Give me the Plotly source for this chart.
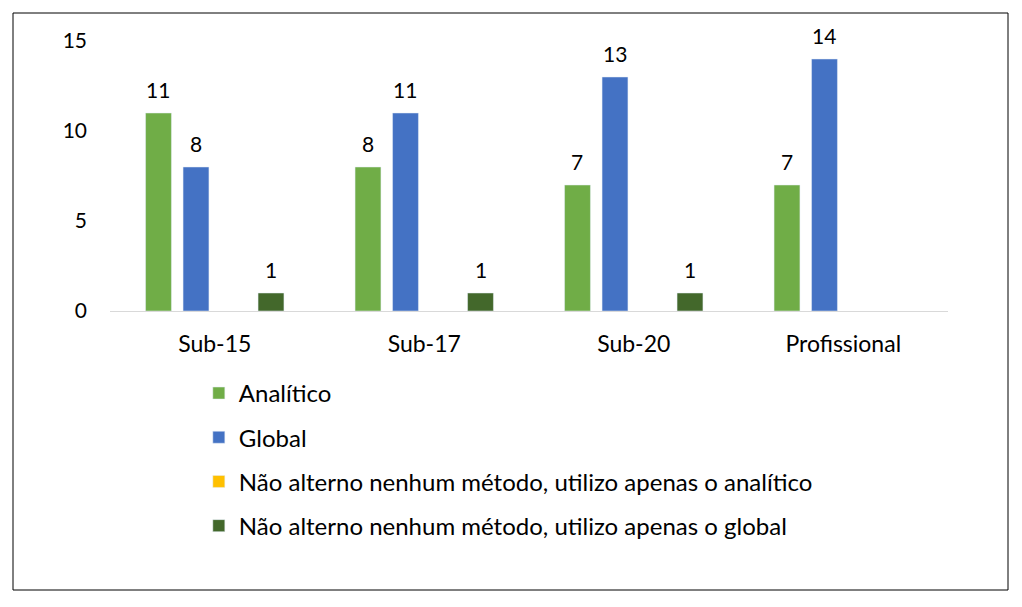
import plotly.graph_objects as go

categories = ["Sub-15", "Sub-17", "Sub-20", "Profissional"]
analitico = [11, 8, 7, 7]
global_ = [8, 11, 13, 14]
apenas_analitico = [None, None, None, None]
apenas_global = [1, 1, 1, None]

series = [
    ("Analítico", analitico, "#70AD47"),
    ("Global", global_, "#4472C4"),
    ("Não alterno nenhum método, utilizo apenas o analítico", apenas_analitico, "#FFC000"),
    ("Não alterno nenhum método, utilizo apenas o global", apenas_global, "#43682B"),
]

FONT = "Lato, 'Open Sans', sans-serif"

W, H = 1006, 591
L, R, T, B = 102, 66, 33, 288
plot_w = W - L - R
cat_w = plot_w / len(categories)
bargap = 0.284
slot = (1 - bargap) * cat_w / len(series)

fig = go.Figure()
for i, (name, vals, color) in enumerate(series):
    fig.add_trace(go.Bar(
        x=categories, y=vals, name=name, marker_color=color,
        legendgroup=f"g{i}",
    ))
    for c, v in zip(categories, vals):
        if v is None:
            continue
        fig.add_annotation(
            x=c, y=v, xref="x", yref="y", text=str(v), showarrow=False,
            yanchor="bottom", yshift=9, xshift=(i - 1.5) * slot,
            font=dict(size=21, color="#000000", family=FONT),
        )

fig.update_layout(
    width=W, height=H,
    paper_bgcolor="white", plot_bgcolor="white",
    margin=dict(l=L, r=R, t=T, b=B),
    barmode="group", bargap=bargap, bargroupgap=0.31,
    font=dict(family=FONT, size=20, color="#000000"),
    showlegend=True,
    legend=dict(
        orientation="v", x=0.106, xanchor="left", y=-0.222, yanchor="top",
        font=dict(size=24, family=FONT, color="#000000"),
        tracegroupgap=10, itemwidth=30, bgcolor="rgba(0,0,0,0)",
    ),
)
fig.update_yaxes(range=[0, 15], tickvals=[0, 5, 10, 15], showgrid=False,
                 zeroline=False, showline=False, ticks="",
                 ticklabelstandoff=22, tickfont=dict(size=21, family=FONT))
fig.update_xaxes(showline=True, linecolor="#D9D9D9", linewidth=1, ticks="",
                 ticklabelstandoff=12, tickfont=dict(size=23, family=FONT))

plot_h = H - T - B
fig.add_shape(type="rect", xref="paper", yref="paper",
              x0=(5 - L) / plot_w, x1=(1000 - L) / plot_w,
              y0=(H - B - 582) / plot_h, y1=(H - B - 5) / plot_h,
              line=dict(color="#000000", width=1), fillcolor="rgba(0,0,0,0)")

fig.write_html("out.html")
